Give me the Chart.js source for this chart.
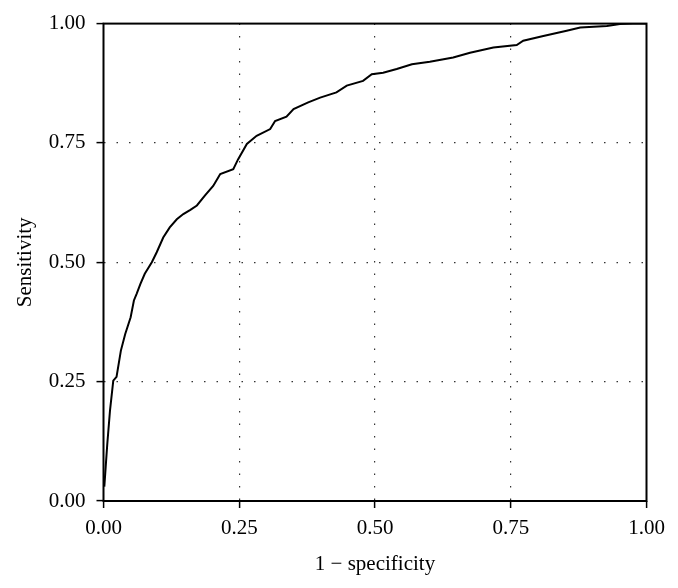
<!DOCTYPE html>
<html>
<head>
<meta charset="utf-8">
<script src="https://cdn.jsdelivr.net/npm/chart.js@4.4.1/dist/chart.umd.min.js"></script>
<style>
  html, body { margin: 0; padding: 0; background: #fff; }
  #wrap { width: 678px; height: 588px; }
</style>
</head>
<body>
<div id="wrap"><canvas id="roc"></canvas></div>
<script>
// ROC curve
const fpr = [0.0015, 0.004, 0.007, 0.012, 0.018, 0.024, 0.032, 0.04, 0.05, 0.056, 0.061, 0.068, 0.076, 0.089, 0.098,
  0.11, 0.122, 0.135, 0.147, 0.16, 0.172, 0.187, 0.202, 0.215, 0.239, 0.248, 0.264, 0.282, 0.307, 0.316,
  0.337, 0.35, 0.377, 0.399, 0.429, 0.448, 0.478, 0.494, 0.515, 0.54, 0.568, 0.601, 0.644, 0.675, 0.718,
  0.761, 0.773, 0.81, 0.853, 0.878, 0.927, 0.951, 0.975, 1.0];
const tpr = [0.03, 0.071, 0.12, 0.19, 0.252, 0.26, 0.315, 0.35, 0.385, 0.42, 0.434, 0.455, 0.476, 0.5, 0.521,
  0.552, 0.573, 0.59, 0.601, 0.61, 0.619, 0.64, 0.66, 0.685, 0.695, 0.716, 0.748, 0.765, 0.779, 0.796,
  0.805, 0.821, 0.835, 0.845, 0.856, 0.87, 0.88, 0.894, 0.897, 0.905, 0.915, 0.92, 0.929, 0.939, 0.95,
  0.955, 0.964, 0.974, 0.985, 0.992, 0.995, 0.999, 1.0, 1.0];
const tickValues = [0, 0.25, 0.5, 0.75, 1];

const font = { family: '"Liberation Serif", "DejaVu Serif", serif', size: 21 };

// box around the plot area
const frame = {
    id: 'frame',
    afterDraw(chart) {
        const a = chart.chartArea;
        const ctx = chart.ctx;
        ctx.save();
        ctx.strokeStyle = '#000';
        ctx.lineWidth = 2;
        ctx.strokeRect(a.left, a.top, a.right - a.left, a.bottom - a.top);
        ctx.restore();
    }
};

const hideEdges = (c) => (c.tick && (c.tick.value === 0 || c.tick.value === 1)) ? 'rgba(0,0,0,0)' : '#333';

function axis(title, pad) {
    return {
        type: 'linear',
        min: 0,
        max: 1,
        afterBuildTicks: (s) => { s.ticks = tickValues.map(v => ({ value: v })); },
        ticks: {
            color: '#000',
            font: font,
            padding: pad,
            callback: (v) => v.toFixed(2)
        },
        grid: {
            color: hideEdges,
            lineWidth: 1.2,
            tickColor: '#000',
            tickLength: 7,
            tickWidth: 1.5
        },
        border: { display: false, dash: [1.5, 11] },
        title: { display: true, text: title, color: '#000', font: font }
    };
}

const xAxis = axis('1 \u2212 specificity', 8);
xAxis.afterFit = (s) => { s.height = 80; };
const yAxis = axis('Sensitivity', 11);
yAxis.afterFit = (s) => { s.width = 95; };

new Chart(document.getElementById('roc'), {
    type: 'scatter',
    data: {
        datasets: [{
            data: fpr.map((x, i) => ({ x: x, y: tpr[i] })),
            showLine: true,
            borderColor: '#000',
            borderWidth: 2,
            pointRadius: 0,
            tension: 0
        }]
    },
    options: {
        responsive: true,
        maintainAspectRatio: false,
        animation: false,
        layout: { padding: { top: 22.7, right: 31.5, left: 8.5, bottom: 7 } },
        plugins: { legend: { display: false }, tooltip: { enabled: false } },
        scales: { x: xAxis, y: yAxis }
    },
    plugins: [frame]
});
</script>
</body>
</html>
